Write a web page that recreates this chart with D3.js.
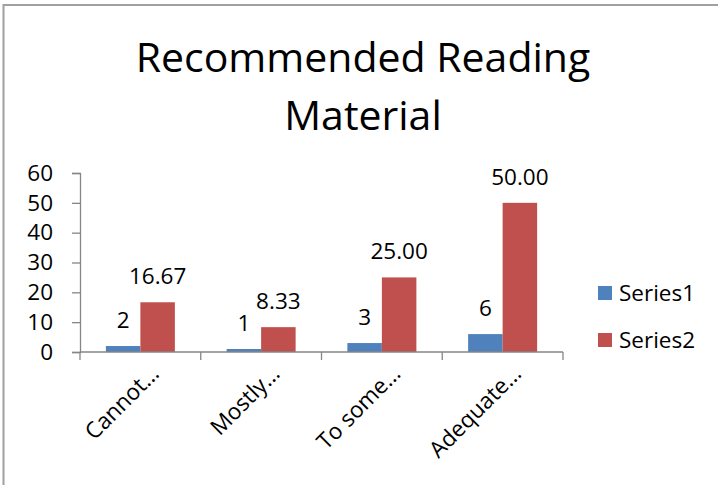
<!DOCTYPE html>
<html><head><meta charset="utf-8">
<script src="https://cdn.jsdelivr.net/npm/d3@7"></script>
<style>body{margin:0;background:#fff}svg{display:block;font-family:"Open Sans",sans-serif}</style>
</head><body>
<svg id="c" width="718" height="485"></svg>
<script>
const categories = ["Cannot…", "Mostly…", "To some…", "Adequate…"];
const series1 = [2, 1, 3, 6];
const series2 = [16.67, 8.33, 25.00, 50.00];
const seriesNames = ["Series1", "Series2"];
const yTicks = [0, 10, 20, 30, 40, 50, 60];
const colors = ["#4F81BD", "#C0504D"];
const titleLines = ["Recommended Reading", "Material"];

const FS = 22.5;
const svg = d3.select("#c");
svg.append("rect").attr("x",3.5).attr("y",5).attr("width",800).attr("height",600)
  .attr("fill","#fff").attr("stroke","#a0a0a0").attr("stroke-width",2);

const title = svg.append("text").attr("text-anchor","middle")
  .attr("font-size",41).attr("fill","#000");
title.selectAll("tspan").data(titleLines).join("tspan")
  .attr("x",363).attr("y",(d,i)=>72+i*58).text(d=>d);

const x0 = d3.scaleBand().domain(categories).range([80,563]).padding(0);
const x1 = d3.scaleBand().domain(seriesNames).range([0,x0.bandwidth()]).paddingInner(0).paddingOuter(0.75);
const y = d3.scaleLinear().domain([0,60]).range([352,173]);

const data = [series1, series2];
const axisColor = "#868686";

// y axis
const ya = svg.append("g").attr("transform","translate(80,0)")
  .call(d3.axisLeft(y).tickValues(yTicks).tickSize(8).tickPadding(19).tickFormat(d3.format("d")));
ya.select(".domain").attr("stroke",axisColor).attr("stroke-width",1.3);
ya.selectAll(".tick line").attr("stroke",axisColor).attr("stroke-width",1.3);
ya.selectAll(".tick text").attr("font-size",FS).attr("fill","#000").attr("font-family","Open Sans");

// bars
const groups = svg.append("g").selectAll("g").data(categories).join("g")
  .attr("transform",d=>`translate(${x0(d)},0)`);
groups.selectAll("rect").data((d,i)=>seriesNames.map((s,j)=>({s,j,v:data[j][i]}))).join("rect")
  .attr("x",d=>x1(d.s)).attr("width",x1.bandwidth())
  .attr("y",d=>y(d.v)).attr("height",d=>y(0)-y(d.v))
  .attr("fill",d=>colors[d.j]);
groups.selectAll("text").data((d,i)=>seriesNames.map((s,j)=>({s,j,v:data[j][i]}))).join("text")
  .attr("x",d=>x1(d.s)+x1.bandwidth()/2).attr("y",d=>y(d.v)-18)
  .attr("text-anchor","middle").attr("font-size",FS).attr("fill","#000")
  .text(d=>d.j===0?d3.format("d")(d.v):d3.format(".2f")(d.v));

// x axis
const xa = svg.append("g").attr("transform","translate(0,352)");
xa.append("line").attr("x1",80).attr("x2",563).attr("stroke",axisColor).attr("stroke-width",1.3);
const tickXs = categories.map(c=>x0(c)).concat([x0.range()[1]]);
xa.selectAll("line.t").data(tickXs).join("line").attr("class","t")
  .attr("x1",d=>d).attr("x2",d=>d).attr("y1",0).attr("y2",8)
  .attr("stroke",axisColor).attr("stroke-width",1.3);
xa.selectAll("text").data(categories).join("text")
  .attr("transform",d=>`translate(${x0(d)+x0.bandwidth()/2+20},${23}) rotate(-45)`)
  .attr("text-anchor","end").attr("font-size",FS).attr("fill","#000").text(d=>d);

// legend
const lg = svg.append("g").selectAll("g").data(seriesNames).join("g")
  .attr("transform",(d,i)=>`translate(598,${293+i*47})`);
lg.append("rect").attr("x",0).attr("y",-7).attr("width",14).attr("height",14).attr("fill",(d,i)=>colors[i]);
lg.append("text").attr("x",21).attr("y",8).attr("font-size",FS).attr("fill","#000").text(d=>d);
</script>
</body></html>
